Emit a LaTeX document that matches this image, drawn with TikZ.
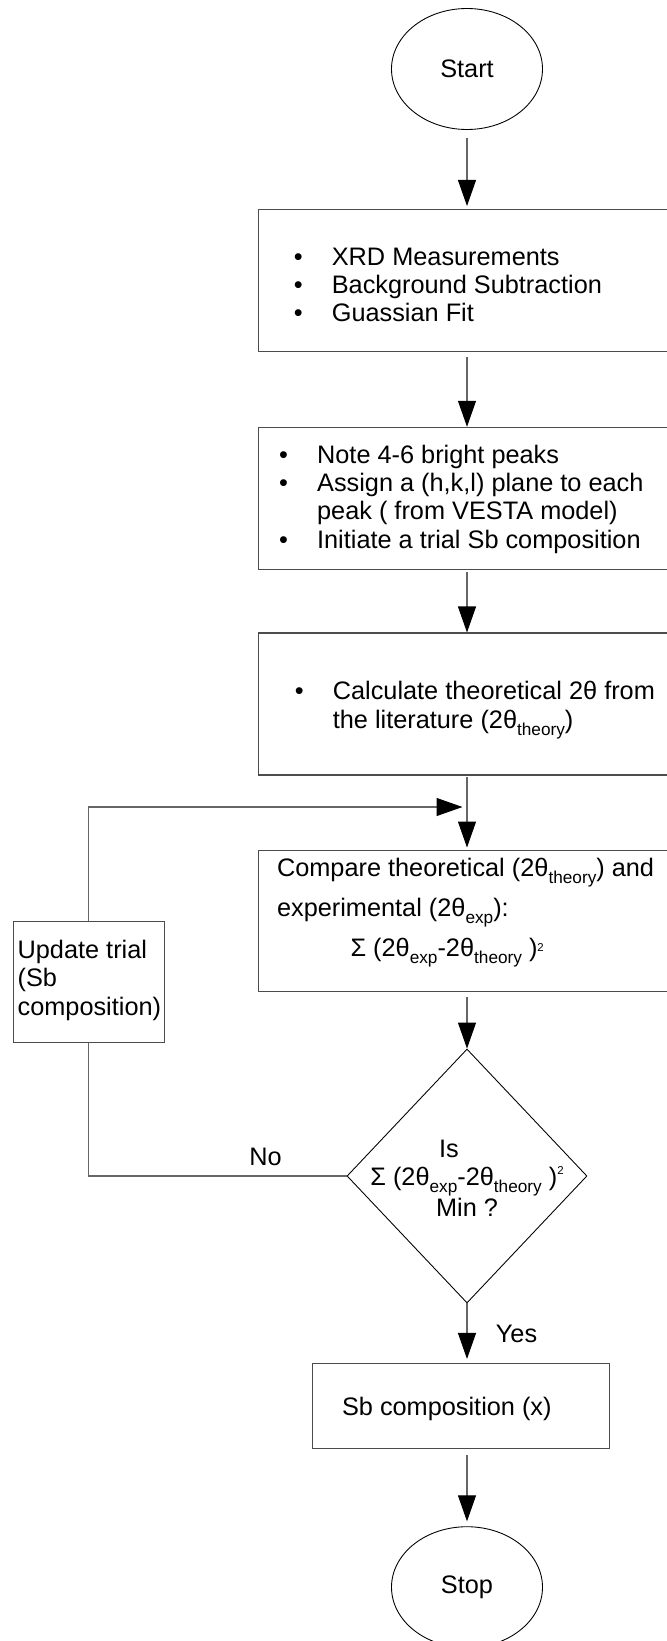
\documentclass[tikz,border=0pt]{standalone}
\usepackage{fontspec}
\setmainfont{Liberation Sans}
\usetikzlibrary{arrows.meta,shapes.geometric}

\newcommand{\lsub}[1]{\raisebox{-4pt}{\fontsize{9.8}{10}\selectfont #1}}
\newcommand{\sqr}[1][3pt]{\raisebox{#1}{\fontsize{6.5}{7}\selectfont 2}}
\newcommand{\itm}{\makebox[0.76cm][l]{\textbullet}}

\begin{document}
\begin{tikzpicture}[
  font=\fontsize{14.4}{16}\selectfont,
  stepbox/.style={draw=black!70, line width=0.6pt, minimum width=8.34cm, minimum height=2.84cm, inner sep=0pt},
  term/.style={draw, ellipse, line width=0.5pt, minimum width=3.02cm, minimum height=2.42cm},
  decide/.style={draw, diamond, line width=0.5pt, minimum width=4.8cm, minimum height=5.08cm, inner sep=0pt},
  txt/.style={align=left, anchor=base west, inner sep=0pt},
  conn/.style={draw=black!60, line width=0.6pt},
  flow/.style={conn, -{Triangle[length=0.52cm, width=0.36cm, color=black]}},
]
\useasboundingbox (0,0) rectangle (13.34,-32.82);
\clip (0,0) rectangle (13.34,-32.82);

% Start / stop
\node[term] (start) at (9.34,-1.38) {Start};
\node[term] (stop) at (9.34,-31.744) {Stop};

% Steps (text nodes sit on the baseline of their last line)
\node[stepbox] (prep) at (9.34,-5.61) {};
\node[txt] (preptxt) at (5.87,-6.434) {\itm XRD Measurements\\\itm Background Subtraction\\\itm Guassian Fit};

\node[stepbox] (peaks) at (9.34,-9.966) {};
\node[txt] (peakstxt) at (5.576,-10.96) {\itm Note 4-6 bright peaks\\\itm Assign a (h,k,l) plane to each\\\hspace*{0.76cm}peak ( from VESTA model)\\\itm Initiate a trial Sb composition};

\node[stepbox] (calc) at (9.34,-14.08) {};
\node[txt] (calctxt) at (5.89,-14.56) {\itm Calculate theoretical 2θ from\\\hspace*{0.76cm}the literature (2θ\lsub{theory})};

\node[stepbox, minimum height=2.82cm] (comp) at (9.34,-18.42) {};
\node[txt] (comptxt) at (5.534,-19.134) {Compare theoretical (2θ\lsub{theory}) and\\[5.3pt]experimental (2θ\lsub{exp}):\\[5.3pt]\hspace*{1.47cm}Σ (2θ\lsub{exp}-2θ\lsub{theory} )\sqr};

\node[stepbox, minimum width=3.02cm, minimum height=2.42cm] (update) at (1.777,-19.64) {};
\node[txt] (updatetxt) at (0.346,-20.30) {Update trial\\(Sb\\composition)};

% Decision
\node[decide] (check) at (9.34,-23.52) {};
\node[align=center, inner sep=0pt, anchor=base] (checktxt) at (9.34,-24.32) {Is\hspace*{0.72cm}\\Σ (2θ\lsub{exp}-2θ\lsub{theory} )\sqr[6pt]\\Min ?};

\node[stepbox, minimum width=5.93cm, minimum height=1.7cm] (result) at (9.22,-28.12) {};
\node[txt] (resulttxt) at (6.834,-28.3) {Sb composition (x)};

% Connectors
\coordinate (merge) at (9.25,-16.14);
\draw[flow, shorten <=4.8pt, shorten >=1.7pt] (start) -- (prep);
\draw[flow, shorten <=2.8pt] (prep) -- (peaks);
\draw[flow, shorten <=1.4pt] (peaks) -- (calc);
\draw[flow, shorten <=1pt, shorten >=1.4pt] (calc) -- (comp);
\draw[flow, shorten <=2.8pt] (comp) -- (check);
\draw[flow, shorten >=2.3pt] (check.south) -- node[pos=0.51, right=0.45cm] (yes) {Yes} (check.south |- result.north);
\draw[flow, shorten <=3.2pt, shorten >=2.8pt] (result.south -| stop) -- (stop);

% Loop back
\draw[conn] (check.west) -- node[pos=0.314, above=0.07cm] (no) {No} (check.west -| update.south) -- (update.south);
\draw[flow] (update) |- (merge);
\end{tikzpicture}
\end{document}
